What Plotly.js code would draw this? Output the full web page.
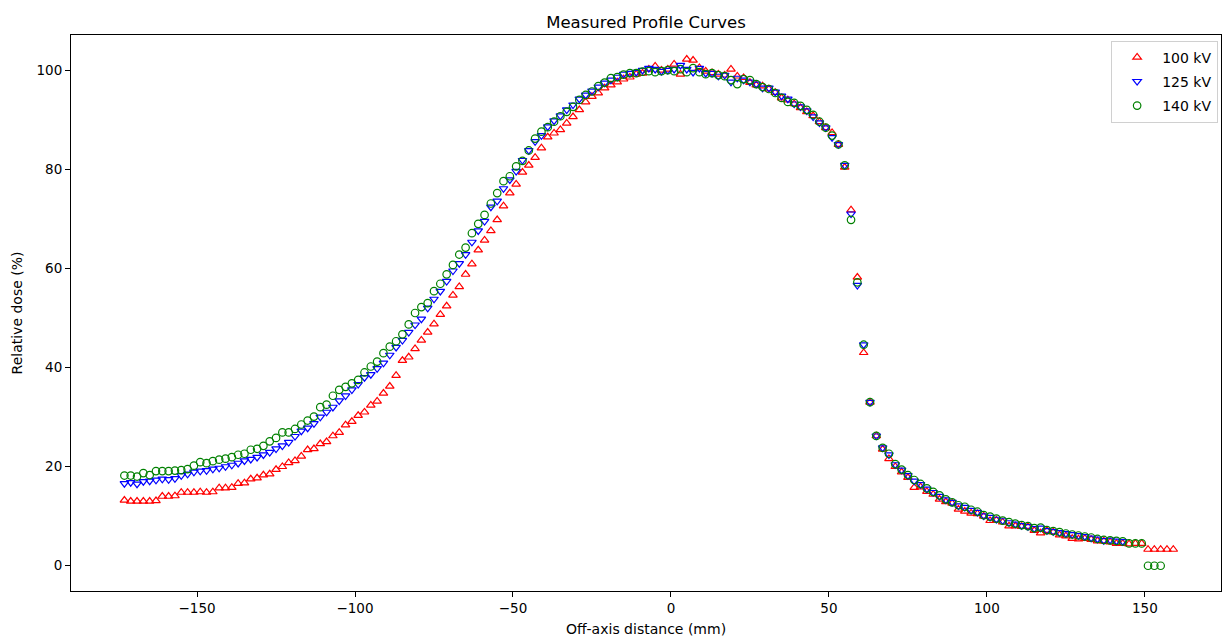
<!DOCTYPE html>
<html>
<head>
<meta charset="utf-8">
<script src="https://cdn.plot.ly/plotly-3.0.1.min.js"></script>
<style>
  html, body { margin: 0; padding: 0; background: #fff; }
  #chart { width: 1223px; height: 641px; }
</style>
</head>
<body>
<div id="chart"></div>
<script>
// Off-axis distance (mm)
const offAxis = [
  -173,-171,-169,-167,-165,-163,-161,-159,-157,-155,
  -153,-151,-149,-147,-145,-143,-141,-139,-137,-135,
  -133,-131,-129,-127,-125,-123,-121,-119,-117,-115,
  -113,-111,-109,-107,-105,-103,-101,-99,-97,-95,
  -93,-91,-89,-87,-85,-83,-81,-79,-77,-75,
  -73,-71,-69,-67,-65,-63,-61,-59,-57,-55,
  -53,-51,-49,-47,-45,-43,-41,-39,-37,-35,
  -33,-31,-29,-27,-25,-23,-21,-19,-17,-15,
  -13,-11,-9,-7,-5,-3,-1,1,3,5,
  7,9,11,13,15,17,19,21,23,25,
  27,29,31,33,35,37,39,41,43,45,
  47,49,51,53,55,57,59,61,63,65,
  67,69,71,73,75,77,79,81,83,85,
  87,89,91,93,95,97,99,101,103,105,
  107,109,111,113,115,117,119,121,123,125,
  127,129,131,133,135,137,139,141,143,145,
  147,149,151,153,155,157,159
];

// Relative dose (%) — 100 kV
const dose100 = [
  13.2,13.0,13.0,13.0,13.0,13.1,14.0,14.0,14.1,14.8,
  14.8,14.8,14.9,14.8,14.9,15.7,15.7,15.8,16.6,16.7,
  17.5,17.7,18.3,18.5,19.4,20.0,20.8,21.2,22.1,23.4,
  23.6,24.6,25.0,26.2,26.9,28.4,29.1,30.3,31.0,32.4,
  33.2,34.8,36.2,38.4,41.4,42.1,43.8,45.5,47.1,48.8,
  50.7,52.4,54.6,56.3,58.8,60.9,63.7,65.7,67.6,69.8,
  72.6,75.2,77.0,79.4,80.8,82.4,84.3,86.5,87.3,88.0,
  89.3,90.6,92.0,93.6,94.7,95.4,96.4,97.0,97.6,98.2,
  98.6,99.2,99.4,100.2,100.8,100.0,100.2,101.2,99.2,102.2,
  102.0,100.5,99.8,99.5,99.2,99.0,100.2,98.8,98.5,97.5,
  97.0,96.8,96.2,95.5,94.4,94.0,93.2,92.4,91.6,90.8,
  89.6,88.4,87.4,85.0,80.4,71.8,58.2,43.0,33.0,26.2,
  23.5,21.6,20.0,18.9,17.8,15.8,15.9,15.0,14.4,13.4,
  12.9,12.6,11.4,11.0,10.6,10.5,10.0,9.1,9.2,8.8,
  8.0,8.0,7.9,7.9,7.1,6.6,7.1,6.8,6.2,6.0,
  5.5,5.4,5.5,5.3,5.0,5.0,4.8,4.5,4.5,4.4,
  4.5,4.5,3.3,3.3,3.3,3.3,3.3
];

// Relative dose (%) — 125 kV
const dose125 = [
  16.6,16.8,16.5,17.0,17.1,17.3,17.5,17.4,17.6,18.2,
  18.5,18.9,19.1,19.2,19.5,19.7,20.0,20.3,20.7,21.2,
  21.5,21.9,22.4,22.9,23.6,24.2,24.9,26.1,27.2,27.8,
  28.7,30.0,31.0,32.0,33.3,34.3,35.5,36.6,38.0,38.6,
  39.8,40.9,42.5,44.1,45.5,47.1,48.6,49.8,52.0,53.8,
  55.4,57.4,59.5,61.0,62.8,65.3,67.6,69.5,72.4,73.6,
  76.1,77.9,79.6,81.8,83.8,85.6,86.8,88.6,89.8,90.8,
  92.0,93.0,94.2,95.0,95.8,96.6,97.4,98.0,98.6,99.2,
  99.4,99.6,100.0,100.4,100.2,99.8,100.0,100.2,101.0,100.2,
  99.6,100.4,99.4,99.4,98.8,99.0,97.6,98.4,98.0,97.6,
  97.2,96.4,96.4,95.6,94.8,94.2,93.2,92.6,91.8,90.6,
  89.4,88.4,86.4,85.0,80.8,71.0,56.6,44.6,33.0,26.2,
  23.8,22.4,20.4,19.3,18.2,17.1,16.4,15.5,14.8,14.0,
  13.3,12.8,12.1,11.8,11.2,10.8,10.1,9.8,9.4,9.1,
  8.7,8.4,8.1,7.9,7.5,7.6,7.1,6.9,6.7,6.5,
  6.3,6.1,5.9,5.6,5.4,5.1,5.2,5.0,4.9
];

// Relative dose (%) — 140 kV
const dose140 = [
  18.2,18.2,18.0,18.7,18.3,19.1,19.1,19.1,19.2,19.3,
  19.5,20.2,20.9,20.7,21.1,21.4,21.6,21.9,22.4,22.6,
  23.4,23.6,24.2,25.1,25.8,26.9,26.9,27.6,28.5,29.3,
  30.1,32.0,32.5,34.3,35.5,36.1,36.8,37.5,39.0,40.2,
  41.2,42.9,44.2,45.3,46.7,48.7,51.0,52.2,53.0,55.4,
  56.9,58.8,60.7,62.8,64.2,67.1,69.0,70.8,73.1,75.2,
  77.6,78.6,80.6,81.7,83.8,86.2,87.6,88.5,89.6,90.7,
  91.6,92.6,94.0,95.0,95.7,96.8,97.5,98.4,98.6,99.1,
  99.4,99.4,99.7,99.8,99.6,99.8,100.0,99.8,100.2,99.6,
  100.4,99.6,99.2,99.4,99.0,98.8,98.0,97.2,98.2,98.0,
  97.2,96.6,96.2,95.4,94.4,93.6,93.4,92.8,92.0,91.0,
  89.6,88.4,86.8,85.0,80.8,69.8,57.2,44.6,33.0,26.2,
  23.8,22.6,20.5,19.4,18.3,17.3,16.5,15.6,14.9,14.2,
  13.4,12.8,12.2,11.9,11.3,10.9,10.2,9.9,9.5,9.1,
  8.8,8.5,8.2,8.0,7.6,7.7,7.2,7.0,6.8,6.5,
  6.3,6.1,5.9,5.7,5.4,5.2,5.1,5.0,4.9,4.5,
  4.5,4.5,0,0,0
];

const seriesNames = ['100 kV', '125 kV', '140 kV'];
const xTicks = [-150, -100, -50, 0, 50, 100, 150];
const yTicks = [0, 20, 40, 60, 80, 100];

const FONT = 'DejaVu Sans, Liberation Sans, sans-serif';

function trace(name, y, symbol, color) {
  return {
    type: 'scatter', mode: 'markers', name: name, legendgroup: name,
    x: offAxis.slice(0, y.length), y: y,
    marker: { symbol: symbol, size: 7.5, color: color, line: { color: color, width: 1.2 } },
    hoverinfo: 'x+y+name'
  };
}

const data = [
  trace(seriesNames[0], dose100, 'triangle-up-open', '#ff0000'),
  trace(seriesNames[1], dose125, 'triangle-down-open', '#0000ff'),
  trace(seriesNames[2], dose140, 'circle-open', '#008000')
];

const axisCommon = {
  showline: true, mirror: true, linecolor: '#000', linewidth: 1,
  ticks: 'outside', ticklen: 5, tickwidth: 1, tickcolor: '#000',
  showgrid: false, zeroline: false,
  tickfont: { family: FONT, size: 13.5, color: '#000' }
};

const layout = {
  width: 1223, height: 641,
  margin: { l: 71, r: 2, t: 35, b: 50 },
  paper_bgcolor: '#fff', plot_bgcolor: '#fff',
  font: { family: FONT, size: 13.5, color: '#000' },
  title: {
    text: 'Measured Profile Curves',
    font: { family: FONT, size: 16.5, color: '#000' },
    x: 0.5, xref: 'paper', xanchor: 'center',
    y: 1, yref: 'paper', yanchor: 'bottom', pad: { b: 7 }
  },
  xaxis: Object.assign({}, axisCommon, {
    range: [-189.9, 174.1], tickvals: xTicks,
    title: { text: 'Off-axis distance (mm)', font: { family: FONT, size: 14, color: '#000' }, standoff: 8 }
  }),
  yaxis: Object.assign({}, axisCommon, {
    range: [-5.1, 107.1], tickvals: yTicks,
    title: { text: 'Relative dose (%)', font: { family: FONT, size: 14, color: '#000' }, standoff: 10 }
  }),
  legend: {
    x: 0.9975, xanchor: 'right', y: 0.99, yanchor: 'top',
    bgcolor: 'rgba(255,255,255,0.8)', bordercolor: '#d0d0d0', borderwidth: 1,
    font: { family: FONT, size: 14, color: '#000' },
    itemwidth: 40, tracegroupgap: 3, traceorder: 'grouped'
  },
  showlegend: true
};

Plotly.newPlot('chart', data, layout, { displayModeBar: false, staticPlot: true });
</script>
</body>
</html>
